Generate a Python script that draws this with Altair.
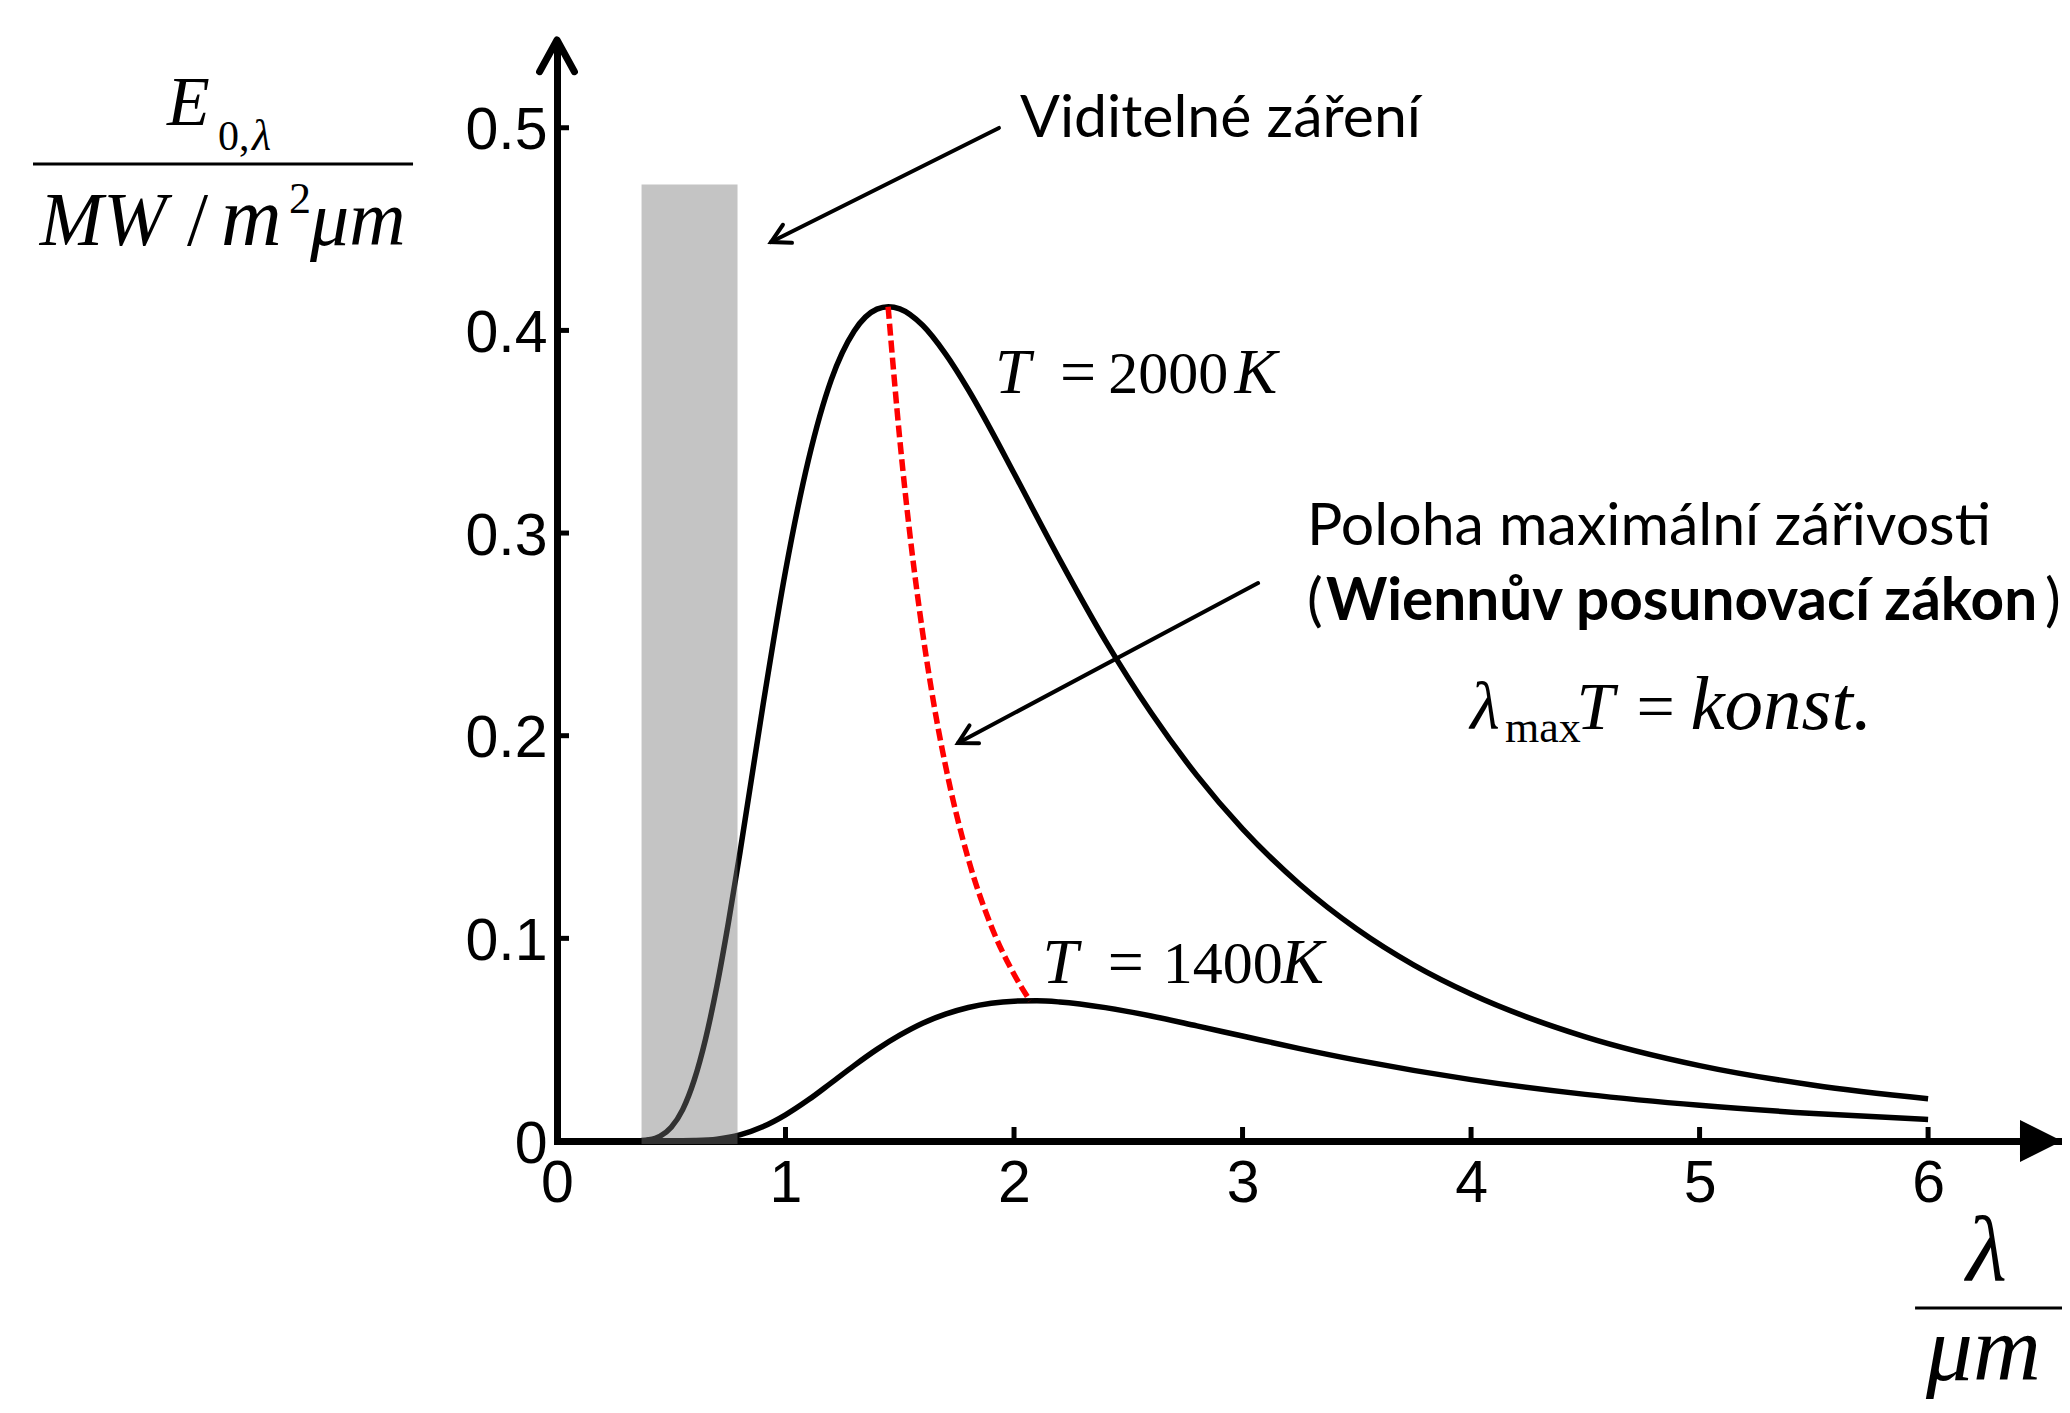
import altair as alt
import pandas as pd

# ---------------- data ----------------
lam_2000 = [0.37, 0.4, 0.45, 0.5, 0.55, 0.6, 0.65, 0.7, 0.75, 0.8, 0.9, 1.0, 1.1, 1.2, 1.3, 1.4,
            1.45, 1.5, 1.6, 1.7, 1.8, 1.9, 2.0, 2.2, 2.4, 2.6, 2.8, 3.0, 3.25, 3.5, 3.75, 4.0,
            4.5, 5.0, 5.5, 6.0]
e_2000 = [0.0002, 0.0006, 0.0023, 0.0068, 0.0155, 0.0299, 0.0503, 0.0766, 0.1077, 0.1419,
          0.2140, 0.2813, 0.3360, 0.3756, 0.3996, 0.4105, 0.4117, 0.4106, 0.4025, 0.3884,
          0.3707, 0.3507, 0.3295, 0.2869, 0.2468, 0.2113, 0.1804, 0.1540, 0.1267, 0.1046,
          0.0868, 0.0725, 0.0514, 0.0372, 0.0275, 0.0208]

lam_1400 = [0.37, 0.5, 0.6, 0.7, 0.8, 0.9, 1.0, 1.1, 1.2, 1.3, 1.4, 1.5, 1.6, 1.7, 1.8, 1.9,
            2.0, 2.1, 2.2, 2.4, 2.6, 2.8, 3.0, 3.25, 3.5, 4.0, 4.5, 5.0, 5.5, 6.0]
e_1400 = [0.0, 0.0, 0.0002, 0.0009, 0.0030, 0.0070, 0.0129, 0.0203, 0.0287, 0.0372, 0.0452,
          0.0522, 0.0581, 0.0626, 0.0659, 0.0680, 0.0690, 0.0692, 0.0686, 0.0658, 0.0617,
          0.0568, 0.0518, 0.0456, 0.0399, 0.0303, 0.0230, 0.0176, 0.0136, 0.0106]

lam_wien = [1.449, 1.5, 1.55, 1.6, 1.65, 1.7, 1.8, 1.9, 2.0, 2.07]
e_wien = [0.4117, 0.3463, 0.2939, 0.2509, 0.2150, 0.1853, 0.1391, 0.1061, 0.0823, 0.0692]

x_ticks = [0, 1, 2, 3, 4, 5, 6]
y_ticks = [0, 0.1, 0.2, 0.3, 0.4, 0.5]

visible_band = [0.37, 0.79]
visible_top = 0.472

# ---------------- scales / axes ----------------
X_MAX = 6.586
Y_MAX = 0.5433
xs = alt.Scale(domain=[0, X_MAX], nice=False, zero=False)
ys = alt.Scale(domain=[0, Y_MAX], nice=False, zero=False)

x_axis = alt.Axis(values=x_ticks, title="", format=".0f", grid=False, ticks=False, tickSize=0,
                  domainColor="black", domainWidth=7, domainCap="square",
                  labelFont="Liberation Sans", labelFontSize=59, labelColor="black",
                  labelBaseline="alphabetic", labelPadding=60, labelFlush=False,
                  labelOverlap=False)
y_axis = alt.Axis(values=y_ticks, title="", format=".1~f", grid=False, ticks=False, tickSize=0,
                  domainColor="black", domainWidth=7,
                  labelFont="Liberation Sans", labelFontSize=59, labelColor="black",
                  labelBaseline="alphabetic", labelPadding=10, labelOffset=21,
                  labelFlush=False, labelOverlap=False)


def X(f="x"):
    return alt.X(f"{f}:Q", scale=xs, axis=x_axis)


def Y(f="y"):
    return alt.Y(f"{f}:Q", scale=ys, axis=y_axis)


# ---------------- curves ----------------
df_curves = pd.concat([
    pd.DataFrame({"x": lam_2000, "y": e_2000, "T": "2000"}),
    pd.DataFrame({"x": lam_1400, "y": e_1400, "T": "1400"}),
])
curves = alt.Chart(df_curves).mark_line(color="black", strokeWidth=5.5,
                                        interpolate="monotone").encode(
    x=X(), y=Y(), detail="T:N")

wien = alt.Chart(pd.DataFrame({"x": lam_wien, "y": e_wien})).mark_line(
    color="#ff0000", strokeWidth=5.5, strokeDash=[12, 5], interpolate="monotone"
).encode(x=X(), y=Y())

# inward ticks
xt = alt.Chart(pd.DataFrame({"x": x_ticks[1:], "y": 0.0, "y2": 0.0069})).mark_rule(
    color="black", strokeWidth=5).encode(x=X(), y=Y(), y2=alt.Y2("y2:Q"))
yt = alt.Chart(pd.DataFrame({"y": y_ticks[1:], "x": 0.0, "x2": 0.0525})).mark_rule(
    color="black", strokeWidth=5).encode(x=X(), x2=alt.X2("x2:Q"), y=Y())

# axis arrow heads
chevron = "M -1 -0.55 L 0 0 L -1 0.55"
triangle = "M -1 -1 L 1 0 L -1 1 Z"
y_head = alt.Chart(pd.DataFrame({"x": [0.0], "y": [Y_MAX]})).mark_point(
    shape=chevron, size=4020, angle=270, filled=False, stroke="black", strokeWidth=7,
    strokeCap="round", strokeJoin="round", opacity=1).encode(x=X(), y=Y())
x_head = alt.Chart(pd.DataFrame({"x": [6.494], "y": [0.0]})).mark_point(
    shape=triangle, size=1764, filled=True, color="black", opacity=1).encode(x=X(), y=Y())

# annotation arrows (tail -> tip)
arrows = pd.DataFrame({
    "x": [3.068, 1.934], "y": [0.2753, 0.4999],
    "x2": [1.755, 0.9365], "y2": [0.1964, 0.4436],
})
arrow_ang = [151.9, 153.4]
shafts = alt.Chart(arrows).mark_rule(color="black", strokeWidth=4, strokeCap="round").encode(
    x=X(), y=Y(), x2=alt.X2("x2:Q"), y2=alt.Y2("y2:Q"))
heads = [
    alt.Chart(pd.DataFrame({"x": [arrows.x2[i]], "y": [arrows.y2[i]]})).mark_point(
        shape=chevron, size=1355, angle=arrow_ang[i], filled=False, stroke="black",
        strokeWidth=4, strokeCap="round", opacity=1).encode(x=X(), y=Y())
    for i in range(2)
]

# fraction bars of the axis titles
bars = alt.Chart(pd.DataFrame({"x": [-2.293, 5.943], "x2": [-0.630, 6.586],
                               "y": [0.4821, -0.0824]})).mark_rule(
    color="black", strokeWidth=3).encode(x=X(), x2=alt.X2("x2:Q"), y=Y())

# ---------------- texts ----------------
sans_txt = pd.DataFrame({
    "t": ["Viditelné záření", "Poloha maximální zářivosti", "(", ")"],
    "x": [2.026, 3.282, 3.282, 6.512],
    "y": [0.4954, 0.2941, 0.2571, 0.2571],
    "s": [59, 59, 59, 59],
})
bold_txt = pd.DataFrame({"t": ["Wiennův posunovací zákon"], "x": [3.365], "y": [0.2571],
                         "s": [58.5]})
ital_txt = pd.DataFrame({
    "t": ["T", "K", "T", "K", "λ", "T", "konst.", "E", "λ", "MW", "m", "μm", "λ", "μm"],
    "x": [1.917, 2.965, 2.125, 3.169, 3.997, 4.461, 4.96, -1.707, -1.335, -2.263, -1.47,
          -1.081, 6.167, 5.99],
    "y": [0.3691, 0.3691, 0.0780, 0.0780, 0.2033, 0.2033, 0.2033, 0.5014, 0.4890, 0.4421,
          0.4421, 0.4421, -0.0686, -0.1180],
    "s": [64, 64, 64, 64, 68, 68, 77, 70, 44, 76, 84, 78, 94, 94],
})
rom_txt = pd.DataFrame({
    "t": ["=", "2000", "=", "1400", "max", "=", "0,", "/", "2"],
    "x": [2.201, 2.412, 2.41, 2.651, 4.149, 4.724, -1.484, -1.619, -1.173],
    "y": [0.3691, 0.3691, 0.0780, 0.0780, 0.1970, 0.2033, 0.4890, 0.4421, 0.4579],
    "s": [64, 60, 64, 60, 44, 68, 42, 76, 44],
})


def text_layer(df, font, italic=False, bold=False):
    kw = dict(font=font, align="left", baseline="alphabetic", color="black")
    if italic:
        kw["fontStyle"] = "italic"
    if bold:
        kw["fontWeight"] = "bold"
    return alt.Chart(df).mark_text(**kw).encode(
        x=X(), y=Y(), text="t:N", size=alt.Size("s:Q", scale=None))


texts = [
    text_layer(sans_txt, "Lato"),
    text_layer(bold_txt, "Lato", bold=True),
    text_layer(ital_txt, "Liberation Serif", italic=True),
    text_layer(rom_txt, "Liberation Serif"),
]

# visible band (drawn on top, semi-transparent)
band = alt.Chart(pd.DataFrame({"x": [visible_band[0]], "x2": [visible_band[1]],
                               "y": [-0.0015], "y2": [visible_top]})).mark_rect(
    color="#777777", opacity=0.43).encode(x=X(), x2=alt.X2("x2:Q"), y=Y(), y2=alt.Y2("y2:Q"))

chart = alt.layer(
    curves, wien, xt, yt, y_head, x_head, shafts, *heads, bars, *texts, band
).properties(
    width=1505, height=1101,
    autosize=alt.AutoSizeParams(type="none"),
    padding={"left": 549, "top": 32, "right": 0, "bottom": 258},
).configure_view(strokeWidth=0)

chart.save("out.html", embed_options={"renderer": "svg", "actions": False})
